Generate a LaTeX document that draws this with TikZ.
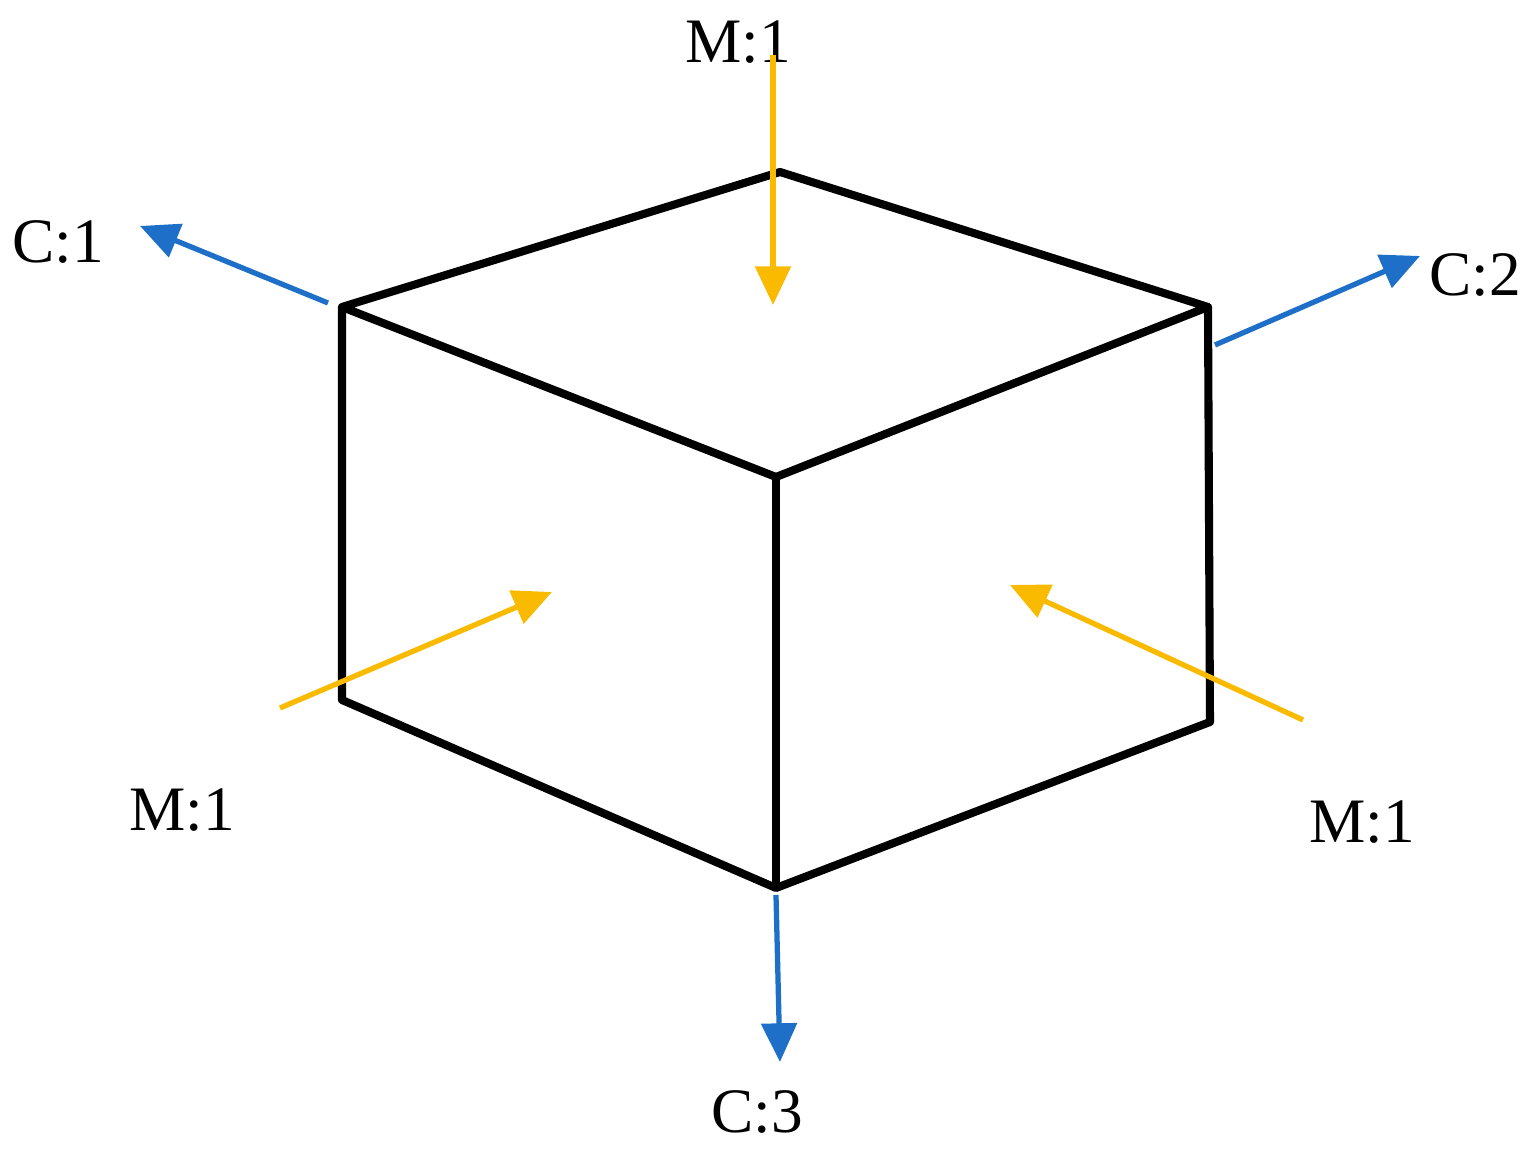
\documentclass[tikz,border=0pt]{standalone}
\usepackage{fontspec}
\setmainfont{Liberation Serif}
\usetikzlibrary{arrows.meta}
\definecolor{org}{HTML}{F9BA00}
\definecolor{blu}{HTML}{1E6FC8}
\begin{document}
\begin{tikzpicture}[x=0.01cm,y=-0.01cm,
  edge/.style={line width=2.3pt,line join=round},
  marr/.style={org,line width=1.5pt,-{Triangle[length=11pt,width=10pt]}},
  carr/.style={blu,line width=1.5pt,-{Triangle[length=11pt,width=10pt]}},
  lab/.style={font=\fontsize{18}{20}\selectfont}]
\useasboundingbox (0,0) rectangle (1535,1168);
\coordinate (T) at (780,172);
\coordinate (LT) at (342,307);
\coordinate (RT) at (1208,307);
\coordinate (C) at (776,477);
\coordinate (LB) at (342,700);
\coordinate (RB) at (1210,722);
\coordinate (B) at (776,888);
\draw[edge] (LT)--(T)--(RT)--(C)--cycle;
\draw[edge] (LT)--(LB)--(B)--(RB)--(RT);
\draw[edge] (C)--(B);
\coordinate (m1s) at (773,55); \coordinate (m1e) at (773,305);
\coordinate (m2s) at (280,708); \coordinate (m2e) at (552,592);
\coordinate (m3s) at (1303,720); \coordinate (m3e) at (1010,585);
\coordinate (c1s) at (328,303); \coordinate (c1e) at (140,226);
\coordinate (c2s) at (1215,345); \coordinate (c2e) at (1420,256);
\coordinate (c3s) at (776,895); \coordinate (c3e) at (780,1062);
\node[lab] (lm1) at (738,42) {M:1};
\node[lab] (lm2) at (182,810) {M:1};
\node[lab] (lm3) at (1362,822) {M:1};
\node[lab] (lc1) at (58,242) {C:1};
\node[lab] (lc2) at (1475,275) {C:2};
\node[lab] (lc3) at (757,1112) {C:3};
\draw[marr] (m1s)--(m1e);
\draw[marr] (m2s)--(m2e);
\draw[marr] (m3s)--(m3e);
\draw[carr] (c1s)--(c1e);
\draw[carr] (c2s)--(c2e);
\draw[carr] (c3s)--(c3e);
\end{tikzpicture}
\end{document}
